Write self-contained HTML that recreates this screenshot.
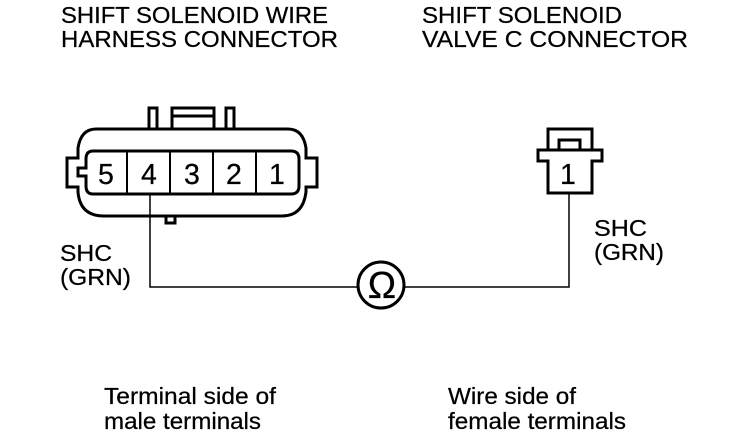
<!DOCTYPE html>
<html>
<head>
<meta charset="utf-8">
<style>
html,body{margin:0;padding:0;background:#fff;}
svg{display:block;}
text{font-family:"Liberation Sans",sans-serif;fill:#000;font-size:23.5px;stroke:#000;stroke-width:.25px;}
.d{font-size:28.5px;}
</style>
</head>
<body>
<svg width="736" height="442" viewBox="0 0 736 442" xmlns="http://www.w3.org/2000/svg">
<text x="61" y="23" textLength="267" lengthAdjust="spacingAndGlyphs">SHIFT SOLENOID WIRE</text>
<text x="61" y="47" textLength="277" lengthAdjust="spacingAndGlyphs">HARNESS CONNECTOR</text>
<text x="422" y="23" textLength="200" lengthAdjust="spacingAndGlyphs">SHIFT SOLENOID</text>
<text x="422" y="47" textLength="266" lengthAdjust="spacingAndGlyphs">VALVE C CONNECTOR</text>

<g fill="none" stroke="#000" stroke-width="3">
<path d="M149 129V108H157V129"/>
<path d="M226 129V108H234V129"/>
<path d="M172 129V108H214V129M172 116H214"/>
<path d="M166 216V223H175V216"/>
<path d="M96 129H288Q303 129 306 148V158H317V187H306V192Q303 216 282 216H104Q80 216 78 192V187H67V158H78V148Q81 129 96 129Z"/>
<path d="M93 151H291Q299 151 299 159V186Q299 194 291 194H93Q86 194 86 186V176H78V168H86V159Q86 151 93 151Z"/>
</g>
<g stroke="#000" stroke-width="2">
<line x1="127" y1="151" x2="127" y2="194"/>
<line x1="170" y1="151" x2="170" y2="194"/>
<line x1="213" y1="151" x2="213" y2="194"/>
<line x1="256" y1="151" x2="256" y2="194"/>
</g>
<text class="d" x="98" y="184">5</text>
<text class="d" x="141" y="184">4</text>
<text class="d" x="184" y="184">3</text>
<text class="d" x="226" y="184">2</text>
<text class="d" x="269" y="184">1</text>

<g fill="none" stroke="#000" stroke-width="3">
<path d="M548 150V129H592V150"/>
<path d="M559 150V140H580V150"/>
<path d="M548 150H538V161H548V193H592V161H602V150H592M548 150H592"/>
</g>
<text class="d" x="560" y="184">1</text>

<g fill="none" stroke="#000" stroke-width="1.5">
<path d="M150 194V287H359"/>
<path d="M405 287H569V193"/>
</g>
<circle cx="381" cy="285" r="23" fill="#fff" stroke="#000" stroke-width="3"/>
<text x="382" y="298" text-anchor="middle" style="font-size:38px">Ω</text>

<text x="60" y="261" textLength="52" lengthAdjust="spacingAndGlyphs">SHC</text>
<text x="60" y="285" textLength="71" lengthAdjust="spacingAndGlyphs">(GRN)</text>
<text x="594" y="236" textLength="53" lengthAdjust="spacingAndGlyphs">SHC</text>
<text x="594" y="260" textLength="70" lengthAdjust="spacingAndGlyphs">(GRN)</text>

<text x="104" y="404" textLength="172" lengthAdjust="spacingAndGlyphs">Terminal side of</text>
<text x="104" y="429" textLength="157" lengthAdjust="spacingAndGlyphs">male terminals</text>
<text x="448" y="404" textLength="128" lengthAdjust="spacingAndGlyphs">Wire side of</text>
<text x="448" y="429" textLength="178" lengthAdjust="spacingAndGlyphs">female terminals</text>
</svg>
</body>
</html>
